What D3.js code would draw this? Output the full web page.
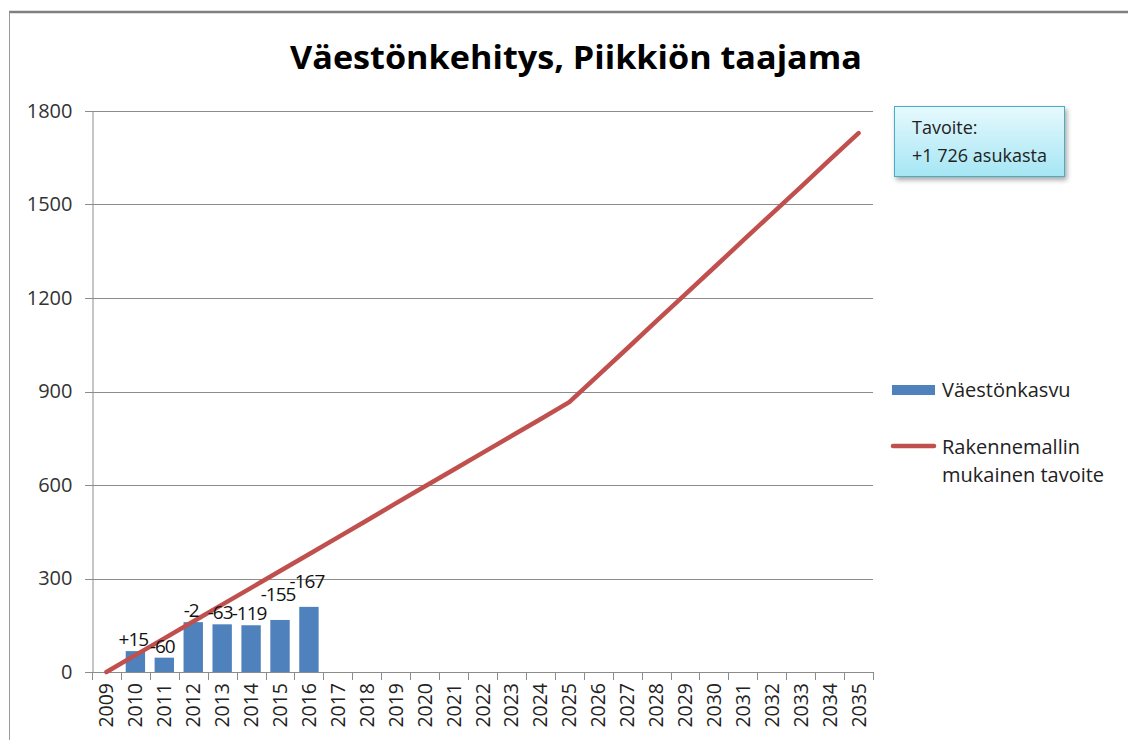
<!DOCTYPE html>
<html lang="fi">
  <head>
    <meta charset="UTF-8">
    <title>Väestönkehitys, Piikkiön taajama</title>
    <script src="https://d3js.org/d3.v7.min.js"></script>
    <style>
      body { margin: 0; background: #fff; }
      svg { font-family: "Open Sans", "Noto Sans", sans-serif; }
    </style>
  </head>
  <body>

<script>
  const years = ["2009","2010","2011","2012","2013","2014","2015","2016","2017","2018",
                 "2019","2020","2021","2022","2023","2024","2025","2026","2027","2028",
                 "2029","2030","2031","2032","2033","2034","2035"];

  // Väestönkasvu (bars)
  const barYears  = ["2010","2011","2012","2013","2014","2015","2016"];
  const barValues = [67, 46, 160, 153, 150, 167, 209];
  const barLabels = ["+15", "-60", "-2", "-63", "-119", "-155", "-167"];

  // Rakennemallin mukainen tavoite (line)
  const targetValues = [0, 54, 108, 162, 216, 270, 324, 378, 432, 486,
                        541, 595, 649, 703, 757, 811, 866, 952, 1038, 1125,
                        1211, 1297, 1384, 1470, 1556, 1643, 1729];

  const yTicks = [0, 300, 600, 900, 1200, 1500, 1800];

  const w = 1128;
  const h = 740;
  const plotLeft = 92, plotRight = 873, plotTop = 111, plotBottom = 672;

  const svg = d3.select("body")
                .append("svg")
                .attr("width", w)
                .attr("height", h);

  // chart border
  svg.append("line").attr("x1", 9).attr("x2", w).attr("y1", 12).attr("y2", 12)
     .attr("stroke", "#808080").attr("stroke-width", 2.5);
  svg.append("line").attr("x1", 9.5).attr("x2", 9.5).attr("y1", 12).attr("y2", h)
     .attr("stroke", "#9a9a9a").attr("stroke-width", 1);

  const xScale = d3.scaleBand()
                   .domain(years)
                   .range([plotLeft, plotRight])
                   .paddingInner(0.33)
                   .paddingOuter(0.165);

  const yScale = d3.scaleLinear()
                   .domain([0, 1800])
                   .range([plotBottom, plotTop]);

  const cx = d => xScale(d) + xScale.bandwidth() / 2;

  // gridlines
  svg.append("g")
     .selectAll("line")
     .data(yTicks)
     .enter()
     .append("line")
     .attr("x1", plotLeft - 7)
     .attr("x2", plotRight)
     .attr("y1", d => Math.round(yScale(d)) + 0.5)
     .attr("y2", d => Math.round(yScale(d)) + 0.5)
     .attr("stroke", "#8c8c8c")
     .attr("stroke-width", 1);

  // y axis
  const yAxis = d3.axisLeft(yScale).tickValues(yTicks).tickFormat(d3.format("d"))
                  .tickSize(0).tickPadding(20);
  const gy = svg.append("g")
     .attr("transform", `translate(${plotLeft + 0.5},0)`)
     .call(yAxis);
  gy.select(".domain").attr("stroke", "#8c8c8c");
  gy.selectAll("text").attr("font-size", 20).attr("fill", "#333")
    .attr("font-family", "'Open Sans', sans-serif");

  // x axis
  const gx = svg.append("g");
  gx.append("line")
    .attr("x1", plotLeft).attr("x2", plotRight)
    .attr("y1", plotBottom + 0.5).attr("y2", plotBottom + 0.5)
    .attr("stroke", "#8c8c8c");
  const halfGap = (xScale.step() - xScale.bandwidth()) / 2;
  const bounds = years.map(d => xScale(d) - halfGap).concat([plotRight]);
  gx.selectAll(".tick")
    .data(bounds)
    .enter()
    .append("line")
    .attr("x1", d => Math.round(d) + 0.5)
    .attr("x2", d => Math.round(d) + 0.5)
    .attr("y1", plotBottom)
    .attr("y2", plotBottom + 8)
    .attr("stroke", "#8c8c8c");
  gx.selectAll("text")
    .data(years)
    .enter()
    .append("text")
    .attr("transform", d => `translate(${cx(d) + 7},${plotBottom + 11}) rotate(-90)`)
    .attr("text-anchor", "end")
    .attr("font-size", 19.5)
    .attr("fill", "#222")
    .text(d => d);

  // bars
  svg.selectAll(".bar")
     .data(barValues)
     .enter()
     .append("rect")
     .attr("class", "bar")
     .attr("x", (d, i) => xScale(barYears[i]))
     .attr("y", d => yScale(d))
     .attr("width", xScale.bandwidth())
     .attr("height", d => yScale(0) - yScale(d))
     .attr("fill", "#4f81bd");

  // line
  const line = d3.line()
                 .x((d, i) => cx(years[i]))
                 .y(d => yScale(d));
  svg.append("path")
     .datum(targetValues)
     .attr("d", line)
     .attr("fill", "none")
     .attr("stroke", "#c0504d")
     .attr("stroke-width", 4.5)
     .attr("stroke-linecap", "round")
     .attr("stroke-linejoin", "round");

  // bar labels
  svg.selectAll(".blabel")
     .data(barLabels)
     .enter()
     .append("text")
     .attr("class", "blabel")
     .attr("x", (d, i) => cx(barYears[i]) - 2)
     .attr("y", (d, i) => yScale(barValues[i]) - 5 - (i >= 5 ? 14 : 0))
     .attr("text-anchor", "middle")
     .attr("font-size", 19)
     .attr("letter-spacing", -1)
     .attr("fill", "#111")
     .text(d => d);

  // title
  svg.append("text")
     .attr("x", 576)
     .attr("y", 69)
     .attr("text-anchor", "middle")
     .attr("font-size", 32)
     .attr("font-weight", "bold")
     .attr("textLength", 572)
     .attr("lengthAdjust", "spacingAndGlyphs")
     .attr("fill", "#000")
     .text("Väestönkehitys, Piikkiön taajama");

  // target box
  const defs = svg.append("defs");
  const grad = defs.append("linearGradient").attr("id", "boxfill")
                   .attr("x1", 0).attr("x2", 0).attr("y1", 0).attr("y2", 1);
  grad.append("stop").attr("offset", "0%").attr("stop-color", "#e6f9fd");
  grad.append("stop").attr("offset", "100%").attr("stop-color", "#a5e6f4");
  const shadow = defs.append("filter").attr("id", "shadow")
                     .attr("x", "-10%").attr("y", "-10%").attr("width", "130%").attr("height", "140%");
  shadow.append("feDropShadow").attr("dx", 2).attr("dy", 3).attr("stdDeviation", 2.5)
        .attr("flood-color", "#000").attr("flood-opacity", 0.35);

  svg.append("rect")
     .attr("x", 894.5).attr("y", 106.5)
     .attr("width", 170).attr("height", 70)
     .attr("fill", "url(#boxfill)")
     .attr("stroke", "#4bacc6")
     .attr("stroke-width", 1)
     .attr("filter", "url(#shadow)");
  svg.append("text").attr("x", 912).attr("y", 134)
     .attr("font-size", 18).attr("fill", "#222").text("Tavoite:");
  svg.append("text").attr("x", 912).attr("y", 162)
     .attr("font-size", 18).attr("fill", "#222").text("+1 726 asukasta");

  // legend
  const legend = svg.append("g");
  legend.append("rect")
        .attr("x", 892).attr("y", 385)
        .attr("width", 43).attr("height", 10)
        .attr("fill", "#4f81bd");
  legend.append("text").attr("x", 942).attr("y", 397)
        .attr("font-size", 20).attr("fill", "#222").text("Väestönkasvu");
  legend.append("line")
        .attr("x1", 893).attr("x2", 934).attr("y1", 446).attr("y2", 446)
        .attr("stroke", "#c0504d").attr("stroke-width", 4.5).attr("stroke-linecap", "round");
  legend.append("text").attr("x", 942).attr("y", 454)
        .attr("font-size", 20).attr("fill", "#222").text("Rakennemallin");
  legend.append("text").attr("x", 942).attr("y", 482)
        .attr("font-size", 20).attr("fill", "#222").text("mukainen tavoite");
</script>

  </body>
</html>
